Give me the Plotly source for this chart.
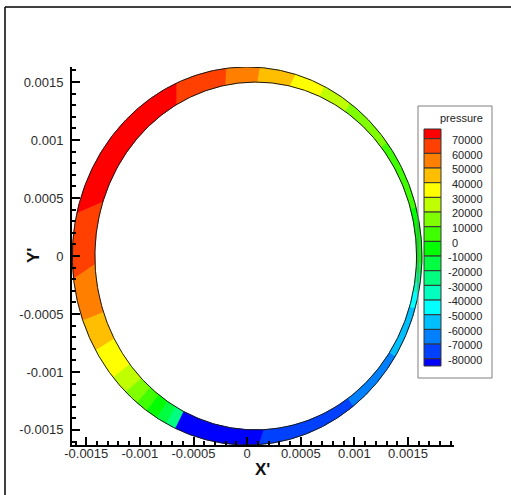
import numpy as np
import plotly.graph_objects as go

# ---- contour levels of the pressure field (Pa) ----
levels = [-80000, -70000, -60000, -50000, -40000, -30000, -20000, -10000,
          0, 10000, 20000, 30000, 40000, 50000, 60000, 70000]

# ---- film geometry (m): outer bearing wall and eccentric journal ----
outer_radius = 0.00163
inner_radius = 0.00150
inner_center_x = 0.00008
inner_center_y = 0.0

# ---- flooded contour bands around the film, counterclockwise ----
# angle (deg, from +X) where each band starts on the outer / inner wall
band_start_outer = [245.6, 274.0, 307.5, 328.0, 344.0, 349.0, 352.0, 355.0, 358.0,
                    15.0, 37.0, 54.0, 64.0, 74.0, 86.0, 97.0, 114.0, 167.0, 187.0,
                    200.0, 210.0, 220.0, 226.0, 231.0, 235.0, 239.0, 242.5]
band_start_inner = [246.0, 276.0, 307.5, 328.0, 344.0, 349.0, 352.0, 355.0, 358.0,
                    15.0, 37.0, 54.0, 64.0, 75.0, 86.5, 98.0, 117.0, 161.0, 183.0,
                    200.0, 210.0, 220.5, 227.0, 231.5, 235.5, 239.5, 243.0]
# representative pressure inside each band
band_pressure = [-85000, -75000, -65000, -55000, -45000, -35000, -25000, -15000, -5000,
                 5000, 15000, 25000, 35000, 45000, 55000, 65000, 75000, 65000, 55000,
                 45000, 35000, 25000, 15000, 5000, -5000, -15000, -25000]

x_ticks = [-0.0015, -0.001, -0.0005, 0, 0.0005, 0.001, 0.0015]
x_ticklabels = ["-0.0015", "-0.001", "-0.0005", "0", "0.0005", "0.001", "0.0015"]
y_ticks = [-0.0015, -0.001, -0.0005, 0, 0.0005, 0.001, 0.0015]
y_ticklabels = ["-0.0015", "-0.001", "-0.0005", "0", "0.0005", "0.001", "0.0015"]

# ---- rainbow colour map: blue - cyan - green - yellow - red ----
n_bands = len(levels) + 1
stops = [(0, 0, 255), (0, 255, 255), (0, 255, 0), (255, 255, 0), (255, 0, 0)]


def band_color(k):
    t = k / (n_bands - 1) * (len(stops) - 1)
    i = min(int(np.floor(t)), len(stops) - 2)
    f = t - i
    c = [round(stops[i][j] + (stops[i + 1][j] - stops[i][j]) * f) for j in range(3)]
    return "rgb(%d,%d,%d)" % tuple(c)


def band_index(p):
    return int(np.digitize(p, levels))


def outer_pt(a):
    r = np.radians(a)
    return outer_radius * np.cos(r), outer_radius * np.sin(r)


def inner_pt(a):
    # point where the ray from the origin meets the journal surface
    r = np.radians(a)
    ux, uy = np.cos(r), np.sin(r)
    uc = ux * inner_center_x + uy * inner_center_y
    t = uc + np.sqrt(uc ** 2 - (inner_center_x ** 2 + inner_center_y ** 2) + inner_radius ** 2)
    return t * ux, t * uy


fig = go.Figure()

n = len(band_pressure)
for i in range(n):
    a0 = band_start_outer[i]
    a1 = band_start_outer[(i + 1) % n]
    b0 = band_start_inner[i]
    b1 = band_start_inner[(i + 1) % n]
    while a1 <= a0:
        a1 += 360
    while b1 <= b0:
        b1 += 360
    ao = np.linspace(a0, a1, max(3, int((a1 - a0) * 2)))
    bi = np.linspace(b1, b0, max(3, int((b1 - b0) * 2)))
    xo, yo = outer_pt(ao)
    xi, yi = inner_pt(bi)
    xs = np.concatenate([xo, xi, xo[:1]])
    ys = np.concatenate([yo, yi, yo[:1]])
    col = band_color(band_index(band_pressure[i]))
    fig.add_trace(go.Scatter(x=xs, y=ys, mode="lines", fill="toself",
                             fillcolor=col, line=dict(color=col, width=0.8),
                             hoverinfo="skip", showlegend=False))

# wall outlines
ang = np.linspace(0, 360, 721)
xo, yo = outer_pt(ang)
xi, yi = inner_pt(ang)
for xs, ys in ((xo, yo), (xi, yi)):
    fig.add_trace(go.Scatter(x=xs, y=ys, mode="lines",
                             line=dict(color="#1a1a1a", width=1),
                             hoverinfo="skip", showlegend=False))

# ---- layout in pixels ----
fig_w, fig_h = 511, 495
m_l, m_r, m_t, m_b = 72, 57, 67, 50
plot_w = fig_w - m_l - m_r
plot_h = fig_h - m_t - m_b


def pxx(p):
    return (p - m_l) / plot_w


def pxy(p):
    return (fig_h - m_b - p) / plot_h


font_family = "Liberation Sans, Arial, sans-serif"
tick_font = dict(family=font_family, size=13, color="#2b2b2b")

axis_common = dict(
    ticks="inside", ticklen=8, tickwidth=2, tickcolor="black",
    showline=True, linewidth=2, linecolor="black", mirror=False,
    showgrid=False, zeroline=False, tickfont=tick_font,
    minor=dict(tickmode="linear", tick0=0, dtick=0.0001, ticks="inside",
               ticklen=4, tickwidth=1.5, tickcolor="black", showgrid=False),
)

fig.update_xaxes(range=[-0.001633, 0.001929], tickmode="array",
                 tickvals=x_ticks, ticktext=x_ticklabels, ticklabelstandoff=-5,
                 **axis_common)
fig.update_yaxes(range=[-0.00163, 0.00163], tickmode="array",
                 tickvals=y_ticks, ticktext=y_ticklabels, ticklabelstandoff=4,
                 **axis_common)

shapes = []
annotations = []

# outer page frame
shapes.append(dict(type="line", xref="paper", yref="paper",
                   x0=pxx(5), x1=pxx(520), y0=pxy(7), y1=pxy(7),
                   line=dict(color="black", width=1.5)))
shapes.append(dict(type="line", xref="paper", yref="paper",
                   x0=pxx(5), x1=pxx(5), y0=pxy(7), y1=pxy(500),
                   line=dict(color="black", width=1.5)))

# contour legend
shapes.append(dict(type="rect", xref="paper", yref="paper",
                   x0=pxx(418), x1=pxx(492), y0=pxy(106), y1=pxy(378),
                   line=dict(color="#7f7f7f", width=1), fillcolor="rgba(0,0,0,0)",
                   layer="above"))
annotations.append(dict(text="pressure", xref="paper", yref="paper",
                        x=pxx(485), y=pxy(117.5), xanchor="right", yanchor="middle",
                        showarrow=False, font=dict(family=font_family, size=11, color="#222222")))

box_x0, box_x1 = 424, 441
box_top, box_bottom = 129, 366
sep_first, sep_step = 138.7, 14.67
levels_desc = levels[::-1]
seps = [sep_first + sep_step * i for i in range(len(levels_desc))]
edges = [box_top] + seps + [box_bottom]
for j in range(len(edges) - 1):
    k = n_bands - 1 - j
    shapes.append(dict(type="rect", xref="paper", yref="paper",
                       x0=pxx(box_x0), x1=pxx(box_x1),
                       y0=pxy(edges[j + 1]), y1=pxy(edges[j]),
                       fillcolor=band_color(k), line=dict(color="#333333", width=1),
                       layer="above"))
for lev, sy in zip(levels_desc, seps):
    lx = 450 - (3.7 if lev < 0 else 0)
    annotations.append(dict(text=str(lev), xref="paper", yref="paper",
                            x=pxx(lx), y=pxy(sy + 1.3), xanchor="left", yanchor="middle",
                            showarrow=False,
                            font=dict(family=font_family, size=11, color="#222222")))

# axis titles
annotations.append(dict(text="<b>X'</b>", xref="paper", yref="paper",
                        x=pxx(262), y=pxy(470), xanchor="center", yanchor="middle",
                        showarrow=False, font=dict(family=font_family, size=17, color="#111111")))
annotations.append(dict(text="<b>Y'</b>", xref="paper", yref="paper",
                        x=pxx(33), y=pxy(256), xanchor="center", yanchor="middle",
                        textangle=-90, showarrow=False,
                        font=dict(family=font_family, size=17, color="#111111")))

fig.update_layout(
    width=fig_w, height=fig_h,
    margin=dict(l=m_l, r=m_r, t=m_t, b=m_b, pad=0),
    paper_bgcolor="white", plot_bgcolor="white",
    showlegend=False, shapes=shapes, annotations=annotations,
)

fig.write_html("out.html")
